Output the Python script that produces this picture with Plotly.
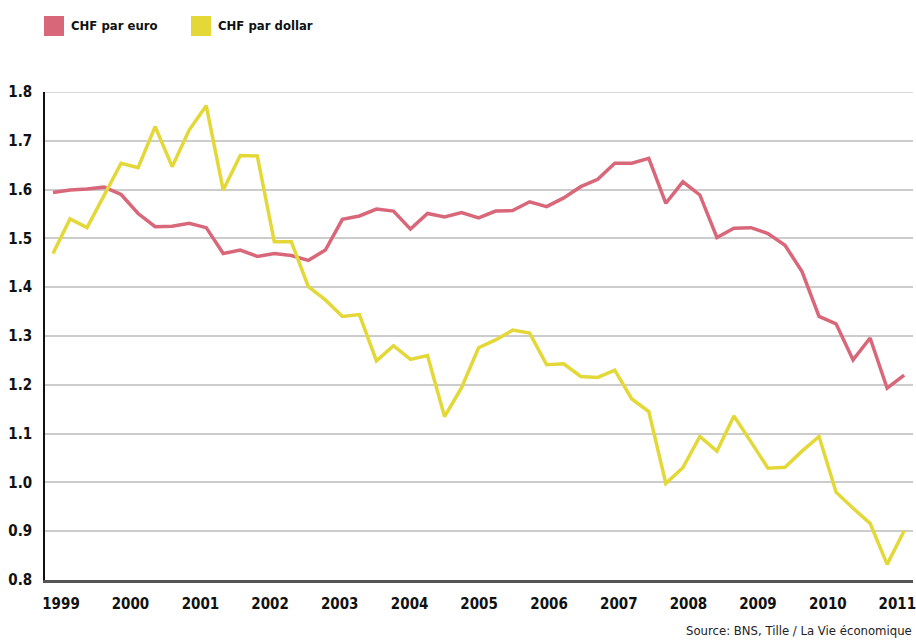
import plotly.graph_objects as go

# Quarterly observations, 1999 Q1 .. 2011 Q3
quarter_index = list(range(51))

chf_per_euro = [1.594, 1.599, 1.601, 1.605, 1.590, 1.551, 1.524, 1.525, 1.531, 1.522,
                1.469, 1.476, 1.463, 1.469, 1.465, 1.455, 1.476, 1.539, 1.546, 1.560,
                1.556, 1.519, 1.551, 1.544, 1.553, 1.542, 1.556, 1.557, 1.575, 1.565,
                1.583, 1.606, 1.621, 1.654, 1.654, 1.664, 1.572, 1.616, 1.589, 1.502,
                1.521, 1.522, 1.510, 1.486, 1.432, 1.340, 1.325, 1.251, 1.296, 1.193,
                1.220]

chf_per_dollar = [1.469, 1.540, 1.522, 1.589, 1.654, 1.645, 1.729, 1.647, 1.722, 1.772,
                  1.599, 1.670, 1.669, 1.493, 1.493, 1.401, 1.374, 1.340, 1.344, 1.249,
                  1.280, 1.252, 1.260, 1.135, 1.194, 1.276, 1.292, 1.312, 1.306, 1.241,
                  1.243, 1.217, 1.215, 1.230, 1.171, 1.145, 0.998, 1.030, 1.094, 1.064,
                  1.136, 1.083, 1.029, 1.031, 1.064, 1.094, 0.980, 0.947, 0.916, 0.832,
                  0.901]

year_labels = ["1999", "2000", "2001", "2002", "2003", "2004", "2005",
               "2006", "2007", "2008", "2009", "2010", "2011"]
year_tick_pos = [0.47, 4.55, 8.66, 12.75, 16.84, 20.95, 25.03,
                 29.14, 33.24, 37.33, 41.41, 45.52, 49.6]

y_ticks = [0.8, 0.9, 1.0, 1.1, 1.2, 1.3, 1.4, 1.5, 1.6, 1.7, 1.8]
y_tick_text = ["0.8", "0.9", "1.0", "1.1", "1.2", "1.3", "1.4", "1.5", "1.6", "1.7", "1.8"]

series_names = ["CHF par euro", "CHF par dollar"]
RED = "#d9677a"
YELLOW = "#e3d838"
FONT = "Liberation Sans Narrow, DejaVu Sans Condensed, sans-serif"

W, H = 916, 641
L, R, T, B = 45, 3, 92, 61

fig = go.Figure()
fig.add_trace(go.Scatter(x=quarter_index, y=chf_per_euro, mode="lines",
                         line=dict(color=RED, width=3.5), name=series_names[0],
                         showlegend=False))
fig.add_trace(go.Scatter(x=quarter_index, y=chf_per_dollar, mode="lines",
                         line=dict(color=YELLOW, width=3.5), name=series_names[1],
                         showlegend=False))

def px_x(px):
    return (px - L) / (W - L - R)

def px_y(py):
    return 1 - (py - T) / (H - T - B)

# Legend: squares + labels (paper coords from pixel positions)
legend_items = [(44, series_names[0], RED), (191, series_names[1], YELLOW)]
for x0, label, col in legend_items:
    fig.add_shape(type="rect", xref="paper", yref="paper",
                  x0=px_x(x0), x1=px_x(x0 + 20), y0=px_y(36), y1=px_y(16),
                  fillcolor=col, line=dict(width=0))
    fig.add_annotation(xref="paper", yref="paper", x=px_x(x0 + 25), y=px_y(26),
                       text="<b>" + label + "</b>", showarrow=False,
                       xanchor="left", yanchor="middle",
                       font=dict(family=FONT, size=13, color="#111111"))

fig.add_annotation(xref="paper", yref="paper", x=px_x(914), y=px_y(640),
                   text="Source: BNS, Tille / La Vie économique", showarrow=False,
                   xanchor="right", yanchor="bottom",
                   font=dict(family=FONT, size=13, color="#222222"))

fig.update_layout(
    width=W, height=H,
    margin=dict(l=L, r=R, t=T, b=B, pad=0, autoexpand=False),
    paper_bgcolor="white", plot_bgcolor="white",
    showlegend=False,
    xaxis=dict(range=[-0.47, 50.52], tickvals=year_tick_pos,
               ticktext=["<b>%s</b>" % t for t in year_labels],
               showgrid=False, zeroline=False, showline=True,
               linecolor="#555555", linewidth=2.5, ticks="",
               ticklabelstandoff=8, ticklabeloverflow="allow", automargin=False,
               tickfont=dict(family=FONT, size=15, color="#111111")),
    yaxis=dict(range=[0.8, 1.8], tickvals=y_ticks,
               ticktext=["<b>%s</b>" % t for t in y_tick_text],
               showgrid=True, gridcolor="#cccccc", gridwidth=1.5,
               zeroline=False, showline=True, linecolor="#111111", linewidth=1.5,
               ticks="", ticklabelstandoff=8, automargin=False,
               tickfont=dict(family=FONT, size=15, color="#111111")),
)

# top gridline at 1.8 drawn explicitly so it is visible at the range edge
fig.add_shape(type="line", xref="paper", yref="y", x0=0, x1=1, y0=1.8, y1=1.8,
              line=dict(color="#cccccc", width=1.5), layer="below")

fig.write_html("out.html", config={"responsive": False, "displayModeBar": False},
               post_script="document.body.style.margin='0';document.body.style.overflow='hidden';")
